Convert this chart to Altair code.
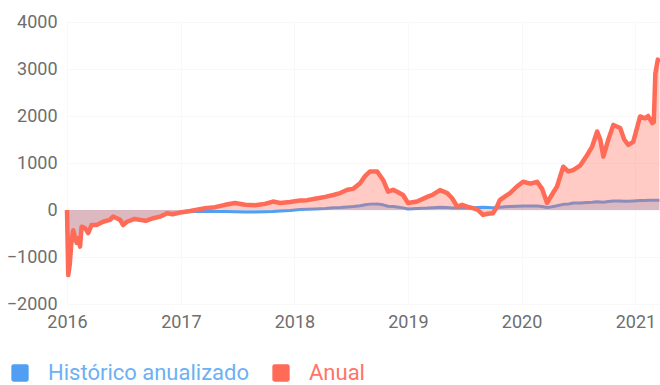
import altair as alt
import pandas as pd

# Fechas de observación y rentabilidades (en puntos)
fechas = [
    "2016-01-01", "2016-01-05", "2016-01-10", "2016-01-15", "2016-01-21", "2016-01-26",
    "2016-02-01", "2016-02-07", "2016-02-12", "2016-02-17", "2016-02-28", "2016-03-09",
    "2016-03-20", "2016-04-05", "2016-04-26", "2016-05-18", "2016-05-28", "2016-06-20",
    "2016-06-29", "2016-07-12", "2016-08-05", "2016-08-23", "2016-09-10", "2016-10-04",
    "2016-10-27", "2016-11-05", "2016-11-18", "2016-12-05", "2016-12-30",
    "2017-01-31", "2017-03-20", "2017-04-21", "2017-05-23", "2017-06-24", "2017-07-26",
    "2017-08-27", "2017-09-28", "2017-10-24", "2017-11-16", "2017-12-18",
    "2018-01-19", "2018-02-11", "2018-03-08", "2018-04-10", "2018-05-06", "2018-05-28",
    "2018-06-20", "2018-07-09", "2018-07-31", "2018-08-16", "2018-09-01", "2018-09-24",
    "2018-10-13", "2018-10-29", "2018-11-14", "2018-11-27", "2018-12-16",
    "2019-01-01", "2019-01-30", "2019-03-04", "2019-03-23", "2019-04-14", "2019-05-07",
    "2019-05-23", "2019-06-08", "2019-06-24", "2019-07-10", "2019-07-29", "2019-08-14",
    "2019-08-30", "2019-09-15", "2019-10-01", "2019-10-11", "2019-10-23", "2019-11-09",
    "2019-11-25", "2019-12-17",
    "2020-01-06", "2020-01-29", "2020-02-20", "2020-03-07", "2020-03-23", "2020-04-08",
    "2020-04-24", "2020-05-14", "2020-05-30", "2020-06-15", "2020-07-08", "2020-07-30",
    "2020-08-15", "2020-08-31", "2020-09-10", "2020-09-20", "2020-10-06", "2020-10-22",
    "2020-11-13", "2020-11-26", "2020-12-09", "2020-12-25",
    "2021-01-16", "2021-02-01", "2021-02-11", "2021-02-24", "2021-03-01", "2021-03-06",
    "2021-03-14", "2021-03-19",
]

anual = [
    0, -1385, -1150, -700, -430, -560,
    -700, -600, -780, -355, -385, -490,
    -320, -320, -250, -210, -140, -210,
    -320, -250, -190, -210, -230, -175,
    -140, -110, -70, -90, -55,
    -20, 40, 60, 110, 150, 110,
    100, 130, 180, 150, 170,
    200, 210, 240, 280, 320, 360,
    430, 450, 570, 720, 820, 820,
    640, 390, 430, 390, 320,
    150, 180, 280, 330, 425, 360,
    250, 70, 110, 70, 40, 0,
    -105, -80, -70, 30, 210, 290,
    360, 500,
    600, 560, 600, 450, 150, 330,
    500, 920, 820, 850, 950, 1170,
    1350, 1670, 1500, 1135, 1500, 1810,
    1745, 1500, 1385, 1450,
    1990, 1950, 2000, 1850, 1870, 2900,
    3200, 3150,
]

historico = [
    0, -1385, -1150, -700, -430, -560,
    -700, -600, -780, -355, -385, -490,
    -320, -320, -250, -210, -140, -210,
    -320, -250, -190, -210, -230, -175,
    -140, -110, -70, -90, -55,
    -30, -25, -30, -30, -35, -40,
    -40, -35, -30, -20, -10,
    10, 15, 20, 30, 50, 55,
    65, 75, 90, 110, 125, 130,
    110, 80, 75, 65, 45,
    20, 30, 40, 50, 60, 55,
    45, 40, 45, 45, 50, 55,
    60, 55, 50, 55, 60, 70,
    75, 80,
    85, 85, 85, 75, 55, 70,
    90, 120, 125, 150, 150, 160,
    165, 175, 170, 165, 180, 190,
    190, 185, 185, 190,
    200, 200, 205, 205, 205, 210,
    210, 210,
]

series = ["Histórico anualizado", "Anual"]
colores = ["#519ff2", "#ff6b57"]
colores_texto = ["#6cb1f2", "#ff7466"]
anios = [2016, 2017, 2018, 2019, 2020, 2021]
marcas_y = [-2000, -1000, 0, 1000, 2000, 3000, 4000]

df = pd.concat([
    pd.DataFrame({"fecha": fechas, "valor": historico, "serie": series[0]}),
    pd.DataFrame({"fecha": fechas, "valor": anual, "serie": series[1]}),
])

x = alt.X(
    "fecha:T",
    title=None,
    scale=alt.Scale(domain=[alt.DateTime(year=2016, month=1, date=1),
                            alt.DateTime(year=2021, month=3, date=21)]),
    axis=alt.Axis(
        values=[alt.DateTime(year=a, month=1, date=1) for a in anios],
        format="%Y", labelFlush=False, labelPadding=9, labelOverlap=False,
    ),
)
y = alt.Y(
    "valor:Q",
    title=None,
    scale=alt.Scale(domain=[marcas_y[0], marcas_y[-1]], nice=False),
    axis=alt.Axis(values=marcas_y, format="d", labelPadding=10, labelFlush=False),
)
color_scale = alt.Scale(domain=series, range=colores)

rounded_square = (
    "M-0.75,-1 H0.75 Q1,-1 1,-0.75 V0.75 Q1,1 0.75,1 H-0.75 "
    "Q-1,1 -1,0.75 V-0.75 Q-1,-1 -0.75,-1 Z"
)

legend = alt.Legend(
    title=None,
    orient="none",
    direction="horizontal",
    legendX=-58,
    legendY=340,
    symbolType=rounded_square,
    symbolSize=300,
    symbolOpacity=1,
    symbolStrokeWidth=0,
    labelFontSize=22,
    labelFont="Roboto",
    labelLimit=400,
    labelOffset=17,
    columnPadding=21,
    labelColor=alt.ExprRef(
        f"datum.label == '{series[1]}' ? '{colores_texto[1]}' : '{colores_texto[0]}'"
    ),
)

base = alt.Chart(df)

def capa(nombre, opacidad, grosor, con_leyenda):
    sel = base.transform_filter(alt.datum.serie == nombre)
    area = sel.mark_area(opacity=opacidad, interpolate="linear").encode(
        x=x, y=y, y2=alt.datum(0),
        color=alt.Color("serie:N", scale=color_scale,
                        legend=legend if con_leyenda else None),
    )
    linea = sel.mark_line(strokeWidth=grosor, strokeJoin="round").encode(
        x=x, y=y,
        color=alt.Color("serie:N", scale=color_scale, legend=None),
    )
    return area, linea

area_h, linea_h = capa(series[0], 0.3, 3, True)
area_a, linea_a = capa(series[1], 0.35, 4.5, False)

chart = alt.layer(area_h, linea_h, area_a, linea_a).properties(
    width=593,
    height=282,
    autosize=alt.AutoSizeParams(type="none"),
    padding={"left": 67, "top": 22, "right": 0, "bottom": 81},
).configure_view(
    stroke=None
).configure_axis(
    domain=False,
    ticks=False,
    grid=True,
    gridColor="#f8f8f8",
    labelFont="Roboto",
    labelFontSize=18,
    labelColor="#6e6e6e",
)

chart.save("out.html", embed_options={"renderer": "svg", "actions": False})
